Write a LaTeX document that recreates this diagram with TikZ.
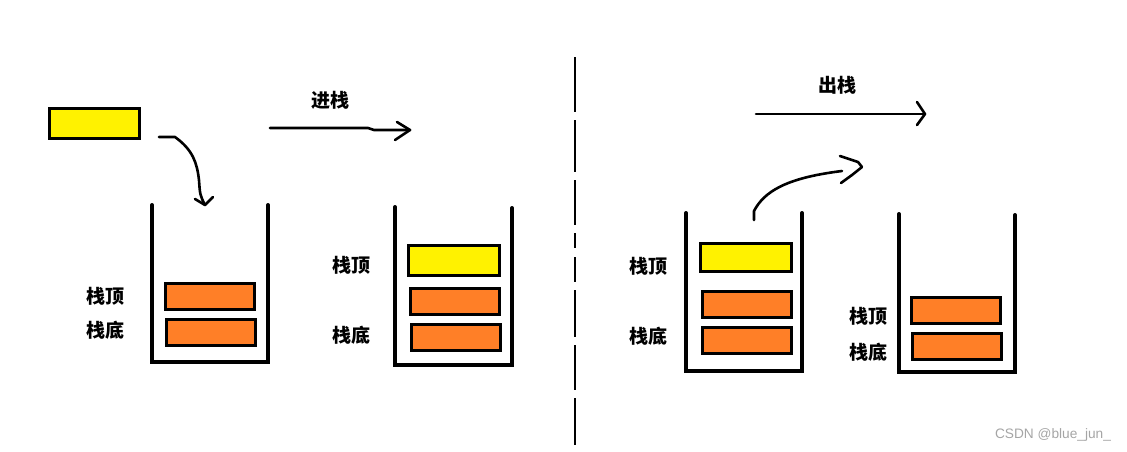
\documentclass[tikz,border=0pt]{standalone}
\usepackage{fontspec}
\newfontfamily\cjk{Noto Sans CJK SC}
\setsansfont{Liberation Sans}
\definecolor{pyellow}{RGB}{255,242,0}
\definecolor{porange}{RGB}{255,127,39}
\definecolor{wmgray}{RGB}{165,165,165}
\begin{document}
\begin{tikzpicture}[x=1pt,y=-1pt,
  box/.style={draw=black,line width=3pt,inner sep=0pt,minimum width=89pt,minimum height=26pt},
  ybox/.style={box,fill=pyellow},
  obox/.style={box,fill=porange},
  wall/.style={line width=4pt,line cap=round,line join=miter},
  conn/.style={line width=2.6pt,line cap=round,line join=round},
  lbl/.style={font=\cjk\bfseries\fontsize{19}{19}\selectfont,inner sep=0pt},
  wm/.style={font=\sffamily\fontsize{13.7}{14}\selectfont,text=wmgray,inner sep=0pt}]
\useasboundingbox (0,0) rectangle (1127,451);
% ---- stack 1
\draw[wall] (152,205) coordinate (s1tl) -- (152,362) -- (268,362) -- (268,205) coordinate (s1tr);
\node[obox] (s1a) at (210,296.5) {};
\node[obox] (s1b) at (211,332.5) {};
\node[lbl] (l1a) at (105,296) {栈顶};
\node[lbl] (l1b) at (105,330) {栈底};
% new element
\node[ybox,minimum width=90pt,minimum height=30pt] (y0) at (94.5,123) {};
\coordinate (c1s) at (159,137);
\coordinate (c1e) at (205,205);
\draw[conn] (c1s) -- (175,137) .. controls (193,150) and (197,163) .. (199,180) .. controls (200,195) .. (c1e);
\draw[conn] (195,199) -- (c1e) -- (213,197);
% push arrow
\node[lbl] (push) at (330,100) {进栈};
\coordinate (p1s) at (270,128);
\coordinate (p1e) at (410,130);
\draw[conn] (p1s) -- (368,128) -- (374,130) -- (p1e);
\draw[conn] (397,122) -- (p1e) -- (395,140);
% ---- stack 2
\draw[wall] (395,207) -- (395,365) -- (512,365) -- (512,208);
\node[ybox,minimum width=91pt,minimum height=30pt] (s2y) at (454,260.5) {};
\node[obox] (s2a) at (455,301) {};
\node[obox] (s2b) at (456,337.5) {};
\node[lbl] (l2a) at (351,265) {栈顶};
\node[lbl] (l2b) at (351,335) {栈底};
% ---- divider
\foreach \a/\b in {57/112,120/172,180/225,233/248,257/282,290/337,345/390,398/445}
  \draw[line width=2.6pt] (575,\a) -- (575,\b);
% ---- pop
\node[lbl] (pop) at (837,85) {出栈};
\coordinate (p2s) at (756,114);
\coordinate (p2e) at (925,114);
\draw[conn] (p2s) -- (p2e);
\draw[conn] (917,102) -- (p2e) -- (917,125);
% ---- stack 3
\draw[wall] (686,213) -- (686,371) -- (802,371) -- (802,213);
\node[ybox,minimum width=91pt,minimum height=28pt] (s3y) at (746,257.5) {};
\node[obox] (s3a) at (746.5,304) {};
\node[obox] (s3b) at (747,340) {};
\node[lbl] (l3a) at (648,266) {栈顶};
\node[lbl] (l3b) at (648,336) {栈底};
\coordinate (c2s) at (754,220);
\coordinate (c2e) at (842,171);
\draw[conn] (c2s) -- (754,211) .. controls (764,192) and (785,178) .. (c2e);
\draw[conn] (840,156) -- (858,162) -- (862,167) -- (852,175) -- (841,183);
% ---- stack 4
\draw[wall] (899,214) -- (899,372) -- (1015,372) -- (1015,215);
\node[obox] (s4a) at (956,310.5) {};
\node[obox] (s4b) at (957,346.5) {};
\node[lbl] (l4a) at (868,316) {栈顶};
\node[lbl] (l4b) at (868,352) {栈底};
% watermark
\node[wm] (wmk) at (1053,435) {CSDN @blue\_jun\_};
\end{tikzpicture}
\end{document}
